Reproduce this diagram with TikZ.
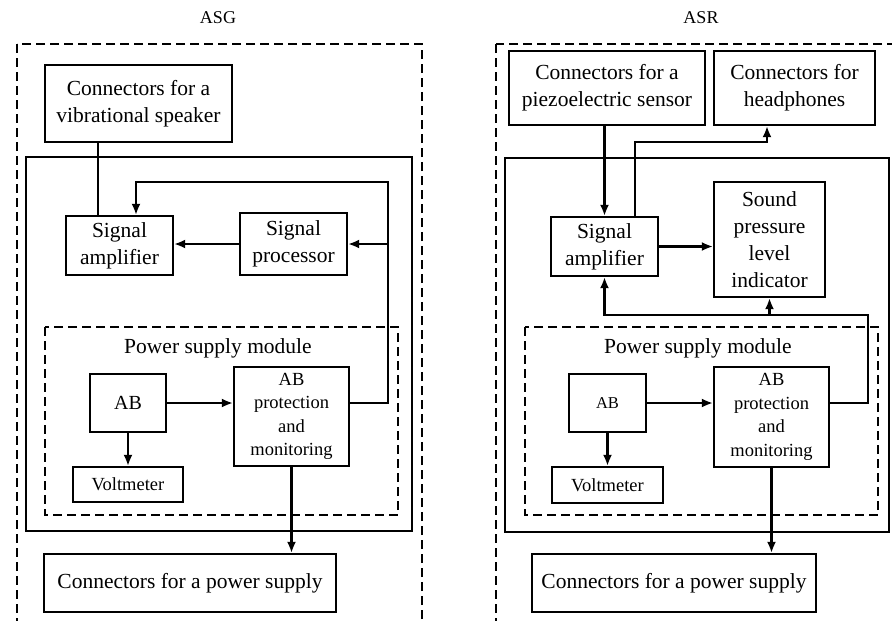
\documentclass[tikz,border=0pt]{standalone}
\usepackage{fontspec}
\setmainfont{Liberation Serif}
\usetikzlibrary{arrows.meta}

\begin{document}
\begin{tikzpicture}[x=1pt,y=-1pt,>={Latex[length=11pt,width=9pt]},line width=2.2pt,
		blk/.style={draw,rectangle,align=center,inner sep=0pt,font=\fontsize{21.5}{27}\selectfont},
		sblk/.style={blk,font=\fontsize{18.5}{23.5}\selectfont},
		lbl/.style={inner sep=0pt,font=\fontsize{21.5}{27}\selectfont},
		dbox/.style={dash pattern=on 9pt off 5pt}]
			\useasboundingbox (0,0) rectangle (892,621);
			% ASG
			\node[lbl,font=\fontsize{18}{22}\selectfont] (asg) at (218,18) {ASG};
			\draw[dbox] (17,44) rectangle (422,640);
			\draw (26,157) rectangle (412,531);
			\draw[dbox] (45,327) rectangle (398,515);
			\node[lbl] (psm1) at (218,348) {Power supply module};
			\node[blk,minimum width=187pt,minimum height=77pt] (spk) at (138.5,103.5) {Connectors for a\\vibrational speaker};
			\node[blk,minimum width=107pt,minimum height=59pt] (amp1) at (119.5,245.5) {Signal\\amplifier};
			\node[blk,minimum width=107pt,minimum height=62pt] (proc) at (293.5,244) {Signal\\processor};
			\node[blk,minimum width=76pt,minimum height=58pt,font=\fontsize{20}{24}\selectfont] (ab1) at (128,403) {AB};
			\node[sblk,minimum width=115pt,minimum height=99pt] (prot1) at (291.5,416.5) {AB\\protection\\and\\monitoring};
			\node[sblk,minimum width=110pt,minimum height=35pt] (volt1) at (128,484.5) {Voltmeter};
			\node[blk,minimum width=292pt,minimum height=58pt] (ps1) at (190,583) {Connectors for a power supply};
			\coordinate (fb1) at (388,182);
			\draw ([xshift=-21.5pt]amp1.north) -- ([xshift=-21.5pt]amp1.north |- spk.south);
			\draw[->] (proc.west) -- (proc.west -| amp1.east);
			\draw[->] (ab1 -| prot1.east) -| (fb1) -| ([xshift=16.5pt]amp1.north);
			\draw[->] (proc.east -| fb1) -- (proc.east);
			\draw[->] (ab1.east) -- (ab1 -| prot1.west);
			\draw[->] (ab1.south) -- (volt1.north);
			\draw[->] (prot1.south) -- (prot1.south |- ps1.north);
			% ASR
			\node[lbl,font=\fontsize{18}{22}\selectfont] (asr) at (701,18) {ASR};
			\draw[dbox] (496,44) rectangle (905,640);
			\draw (505,158) rectangle (889,532);
			\draw[dbox] (525,327) rectangle (878,515);
			\node[lbl] (psm2) at (698,348) {Power supply module};
			\node[blk,minimum width=196pt,minimum height=74pt] (piezo) at (607,88) {Connectors for a\\piezoelectric sensor};
			\node[blk,minimum width=161pt,minimum height=74pt] (head) at (794.5,88) {Connectors for\\headphones};
			\node[blk,minimum width=107pt,minimum height=59pt] (amp2) at (604.5,246.5) {Signal\\amplifier};
			\node[blk,minimum width=111pt,minimum height=115pt] (spl) at (769.5,239.5) {Sound\\pressure\\level\\indicator};
			\node[blk,minimum width=77pt,minimum height=58pt,font=\fontsize{16.5}{20}\selectfont] (ab2) at (607.5,403) {AB};
			\node[sblk,minimum width=115pt,minimum height=100pt] (prot2) at (771.5,417) {AB\\protection\\and\\monitoring};
			\node[sblk,minimum width=111pt,minimum height=36pt] (volt2) at (607.5,485) {Voltmeter};
			\node[blk,minimum width=284pt,minimum height=58pt] (ps2) at (674,583) {Connectors for a power supply};
			\coordinate (fb2) at (868,315);
			\draw[->] (amp2.north |- piezo.south) -- (amp2.north);
			\draw[->] ([xshift=30.5pt]amp2.north) -- ++(0,-74) -| ([xshift=-27.5pt]head.south);
			\draw[->] (amp2.east) -- (amp2.east -| spl.west);
			\draw[->] (ab2 -| prot2.east) -| (fb2) -| (amp2.south);
			\draw[->] (spl.south |- fb2) -- (spl.south);
			\draw[->] (ab2.east) -- (ab2 -| prot2.west);
			\draw[->] (ab2.south) -- (volt2.north);
			\draw[->] (prot2.south) -- (prot2.south |- ps2.north);
		\end{tikzpicture}
\end{document}
